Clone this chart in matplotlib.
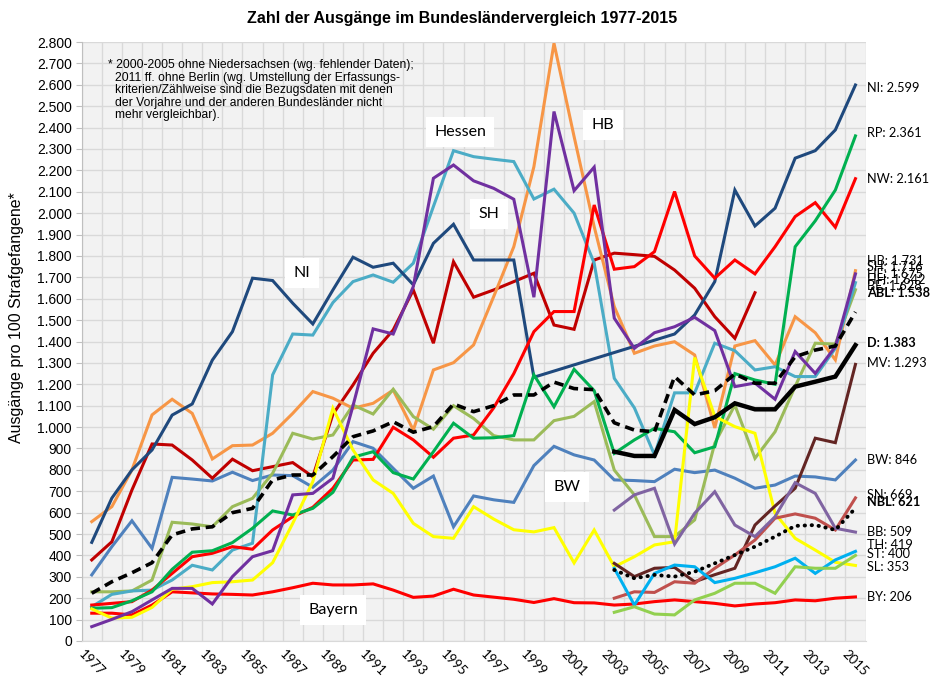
import numpy as np
import matplotlib
matplotlib.use('Agg')
from matplotlib import pyplot as plt
from matplotlib.ticker import FuncFormatter

N = np.nan
years = list(range(1977, 2016))

# Ausgaenge pro 100 Strafgefangene, 1977-2015
bw = [309, 441, 562, 433, 765, 757, 748, 789, 750, 776, 773, 719, 799, 932, 901, 807, 714, 771, 534, 678,
      660, 648, 820, 910, 870, 846, 753, 750, 745, 803, 787, 799, 761, 714, 729, 771, 767, 753, 846]
by = [130, 130, 122, 168, 230, 225, 220, 218, 215, 230, 249, 270, 262, 262, 267, 238, 204, 210, 242, 215,
      205, 195, 180, 198, 179, 178, 168, 173, 184, 192, 184, 176, 164, 173, 179, 192, 188, 200, 206]
be = [379, 464, 706, 921, 916, 846, 761, 850, 796, 815, 834, 768, 1060, 1197, 1345, 1454, 1641, 1392, 1773, 1607,
      1641, 1680, 1719, 1477, 1457, 1781, 1813, 1806, 1798, 1734, 1649, 1516, 1415, 1628, N, N, N, N, N]
hb = [558, 628, 800, 1057, 1130, 1064, 851, 913, 916, 971, 1064, 1166, 1135, 1088, 1111, 1173, 986, 1267, 1301, 1384,
      1610, 1843, 2217, 2794, 2358, 1937, 1563, 1345, 1379, 1399, 1337, 996, 1379, 1404, 1290, 1516, 1441, 1314, 1731]
hh = [230, 230, 234, 285, 555, 547, 534, 628, 667, 784, 971, 944, 963, 1103, 1061, 1177, 1049, 990, 1100, 1040,
      960, 940, 940, 1030, 1050, 1119, 799, 683, 488, 488, 566, 924, 1103, 854, 978, 1190, 1392, 1388, 1642]
he = [160, 218, 234, 238, 285, 354, 332, 425, 457, 1244, 1435, 1430, 1582, 1680, 1711, 1677, 1766, 2031, 2292, 2264,
      2252, 2241, 2066, 2112, 2000, 1766, 1228, 1090, 870, 1160, 1160, 1392, 1357, 1267, 1282, 1236, 1236, 1368, 1675]
ni = [461, 668, 800, 893, 1056, 1108, 1313, 1446, 1696, 1685, 1579, 1482, 1641, 1794, 1747, 1766, 1665, 1859, 1948, 1781,
      1781, 1781, 1233, N, N, N, N, N, N, 1435, 1524, 1680, 2108, 1940, 2023, 2257, 2292, 2389, 2599]
nw = [168, 176, 184, 238, 316, 394, 410, 441, 429, 519, 581, 625, 714, 846, 849, 999, 940, 859, 948, 963,
      1090, 1250, 1446, 1540, 1540, 2038, 1738, 1750, 1820, 2101, 1800, 1696, 1781, 1716, 1843, 1984, 2049, 1934, 2161]
rp = [153, 156, 188, 230, 335, 415, 422, 460, 527, 608, 589, 620, 695, 859, 885, 787, 757, 885, 1018, 948,
      950, 960, 1244, 1095, 1270, 1170, 877, 940, 994, 978, 880, 908, 1250, 1220, 1200, 1843, 1964, 2108, 2361]
sl = [150, 107, 111, 157, 242, 254, 273, 277, 285, 366, 550, 745, 1088, 893, 753, 690, 550, 488, 480, 628,
      570, 520, 510, 530, 365, 519, 347, 394, 449, 464, 1325, 1050, 1002, 971, 597, 480, 425, 368, 353]
sh = [67, 101, 137, 192, 246, 246, 173, 301, 394, 422, 683, 690, 761, 1100, 1459, 1435, 1657, 2163, 2225, 2151,
      2116, 2065, 1607, 2475, 2105, 2215, 1509, 1368, 1441, 1469, 1513, 1451, 1189, 1206, 1130, 1353, 1251, 1376, 1716]
pad = [N] * 26
mv = pad + [363, 301, 340, 344, 277, 310, 340, 542, 631, 714, 948, 927, 1293]
sn = pad + [200, 230, 227, 277, 270, 340, 402, 472, 574, 594, 574, 519, 669]
bb = pad + [612, 683, 714, 453, 597, 698, 542, 488, 581, 740, 690, 527, 509]
th = pad + [340, 168, 316, 355, 347, 273, 293, 319, 347, 387, 316, 379, 419]
st = pad + [134, 160, 126, 122, 192, 223, 270, 270, 223, 347, 340, 340, 400]
abl = [223, 277, 319, 366, 496, 524, 534, 600, 620, 753, 776, 776, 862, 955, 982, 1025, 976, 1002, 1108, 1072,
       1100, 1150, 1150, 1210, 1180, 1175, 1020, 986, 978, 1236, 1150, 1170, 1248, 1205, 1205, 1329, 1360, 1379, 1538]
d = pad + [885, 865, 865, 1080, 1014, 1046, 1111, 1083, 1083, 1189, 1212, 1236, 1383]
nbl = pad + [332, 293, 309, 301, 324, 363, 402, 441, 488, 538, 542, 519, 621]

W, H = 940, 682


def px(x, y):
    '''pixel position -> figure fraction'''
    return x / W, 1 - y / H


fig = plt.figure(figsize=(9.4, 6.82), dpi=100)
ax = fig.add_axes([81.7 / W, 1 - 641 / H, (865.5 - 81.7) / W, (641 - 42) / H])
ax.set_facecolor('#f2f2f2')

x = np.arange(len(years))


def line(vals, color, lw=2.2, **kw):
    v = np.array(vals, dtype=float)
    m = np.isfinite(v)
    ax.plot(x[m], v[m], color=color, lw=lw, solid_joinstyle='miter', **kw)


line(bw, '#4f81bd')
line(by, '#ff0000')
line(be, '#c00000')
line(hb, '#f79646')
line(hh, '#9bbb59')
line(he, '#4bacc6')
line(ni, '#1f497d')
line(nw, '#ff0000')
line(rp, '#00b050')
line(sl, '#ffff00')
line(sh, '#7030a0')
line(mv, '#632523')
line(sn, '#c0504d')
line(bb, '#8064a2')
line(th, '#00b0f0')
line(st, '#92d050')
line(abl, 'black', lw=2.6, dashes=(2.6, 1.6))
line(d, 'black', lw=3.2)
line(nbl, 'black', lw=2.8, dashes=(0.1, 1.7), dash_capstyle='round')

ax.set_xlim(-0.5, len(years) - 0.5)
ax.set_ylim(0, 2800)
ax.set_yticks(np.arange(0, 2801, 100))
ax.yaxis.set_major_formatter(FuncFormatter(lambda v, p: f'{int(v):,}'.replace(',', '.')))
ax.set_xticks(x[::2])
ax.set_xticklabels([str(y) for y in years[::2]], rotation=-45, ha='center', va='top',
                   fontsize=9.5, family='Lato')
ax.set_xticks(np.arange(-0.5, len(years), 1), minor=True)
ax.grid(True, which='major', axis='y', color='#d9d9d9', lw=1)
ax.grid(True, which='minor', axis='x', color='#d9d9d9', lw=1)
ax.tick_params(axis='x', which='both', length=0, pad=5)
ax.tick_params(axis='y', length=4, color='#bfbfbf', labelsize=10, pad=3)
for lab in ax.get_yticklabels():
    lab.set_family('Liberation Sans')
ax.set_axisbelow(True)
for s in ['top', 'right']:
    ax.spines[s].set_visible(False)
ax.spines['left'].set_color('#bfbfbf')
ax.spines['bottom'].set_color('#d9d9d9')

fig.text(*px(462, 18), 'Zahl der Ausgänge im Bundesländervergleich 1977-2015', ha='center', va='center',
         fontsize=11.5, fontweight='bold', family='Liberation Sans')
fig.text(*px(17, 318), 'Ausgänge pro 100 Strafgefangene*', rotation=90, ha='center', va='center',
         fontsize=11.5, family='Liberation Sans')

# Fussnote
fig.text(*px(108, 65), '* 2000-2005 ohne Niedersachsen (wg. fehlender Daten);', va='center',
         fontsize=8.7, family='Liberation Sans')
note = ['2011 ff. ohne Berlin (wg. Umstellung der Erfassungs-',
        'kriterien/Zählweise sind die Bezugsdaten mit denen',
        'der Vorjahre und der anderen Bundesländer nicht',
        'mehr vergleichbar).']
for i, t in enumerate(note):
    fig.text(*px(115, 77.7 + 12.5 * i), t, va='center', fontsize=8.7, family='Liberation Sans')

# Beschriftungen im Diagramm
for t, (lx, ly) in [('NI', (302, 273)), ('Hessen', (460, 132)), ('SH', (489, 214)),
                    ('HB', (603, 125)), ('BW', (567, 487)), ('Bayern', (333, 610))]:
    fig.text(*px(lx, ly), t, ha='center', va='center', fontsize=11.5, family='Lato',
             bbox=dict(facecolor='white', edgecolor='none', pad=6))

# Endwerte rechts (im Original teils uebereinander)
ends = [('NI: 2.599', 88, False), ('RP: 2.361', 133, False), ('NW: 2.161', 179, False),
        ('HB: 1.731', 261, False), ('SH: 1.716', 267, False), ('HE: 1.675', 273.5, False),
        ('HH: 1.642', 280, False), ('BE: 1.628', 286, False), ('ABL: 1.538', 293, True),
        ('D: 1.383', 343, True), ('MV: 1.293', 363, False), ('BW: 846', 460, False),
        ('SN: 669', 495, False), ('NBL: 621', 502, True), ('BB: 509', 532, False),
        ('TH: 419', 545, False), ('ST: 400', 554, False), ('SL: 353', 567, False),
        ('BY: 206', 597, False)]
for t, ly, b in ends:
    fig.text(*px(867, ly), t, va='center', fontsize=9.2, family='Lato',
             fontweight='bold' if b else 'normal')

fig.savefig('out.png', dpi=100)
